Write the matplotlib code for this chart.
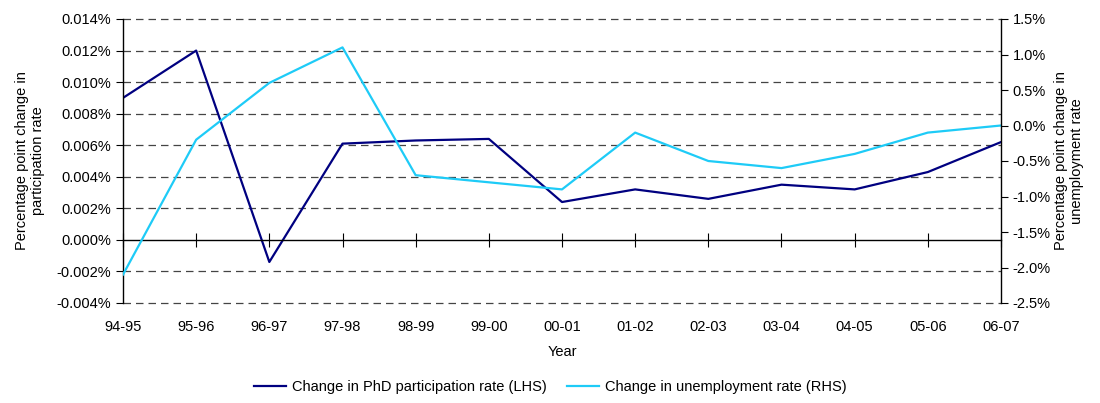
import matplotlib
matplotlib.use("Agg")
import matplotlib.pyplot as plt
from matplotlib.ticker import FuncFormatter

plt.rcParams['font.family'] = ['Liberation Sans', 'DejaVu Sans']
plt.rcParams['font.size'] = 10.5

# data
years = ['94-95', '95-96', '96-97', '97-98', '98-99', '99-00', '00-01',
         '01-02', '02-03', '03-04', '04-05', '05-06', '06-07']
phd_change = [0.0090, 0.0120, -0.0014, 0.0061, 0.0063, 0.0064, 0.0024,
              0.0032, 0.0026, 0.0035, 0.0032, 0.0043, 0.0062]
unemp_change = [-2.1, -0.2, 0.6, 1.1, -0.7, -0.8, -0.9,
                -0.1, -0.5, -0.6, -0.4, -0.1, 0.0]

navy = '#000080'
cyan = '#1ECBF7'

fig = plt.figure(figsize=(11, 4.03), dpi=100)
ax = fig.add_axes([123/1100, 1-303/403, (1001-123)/1100, (303-19)/403])
x = list(range(len(years)))

l1, = ax.plot(x, phd_change, color=navy, lw=1.6, label='Change in PhD participation rate (LHS)')
ax.set_xlim(0, len(years)-1)
ax.set_ylim(-0.004, 0.014)
yt = [-0.004 + 0.002*i for i in range(10)]
ax.set_yticks(yt)
ax.yaxis.set_major_formatter(FuncFormatter(lambda v, p: '%.3f%%' % v if abs(v) > 1e-9 else '0.000%'))
for v in yt:
    if abs(v) > 1e-9:
        ax.axhline(v, color='#444444', lw=0.9, ls=(0, (6, 4)), zorder=0, clip_on=False)

# x axis line through zero with crossing ticks
ax.spines['top'].set_visible(False)
ax.spines['right'].set_visible(False)
ax.spines['bottom'].set_position(('data', 0))
ax.spines['bottom'].set_linewidth(1.0)
ax.spines['left'].set_linewidth(1.0)
ax.set_xticks(x)
ax.tick_params(axis='x', direction='inout', length=10, labelbottom=False)
ax.tick_params(axis='y', direction='out', length=5)

sec = ax.secondary_xaxis(0)
sec.set_xticks(x, years)
sec.tick_params(length=0, pad=12)
sec.spines['bottom'].set_visible(False)
sec.set_xlabel('Year', labelpad=8)

ax.set_ylabel('Percentage point change in\nparticipation rate', labelpad=8)

ax2 = ax.twinx()
l2, = ax2.plot(x, unemp_change, color=cyan, lw=1.6, label='Change in unemployment rate (RHS)')
ax2.set_ylim(-2.5, 1.5)
ax2.set_yticks([-2.5 + 0.5*i for i in range(9)])
ax2.yaxis.set_major_formatter(FuncFormatter(lambda v, p: '%.1f%%' % v))
ax2.tick_params(axis='y', direction='out', length=5)
for s in ['top', 'left', 'bottom']:
    ax2.spines[s].set_visible(False)
ax2.spines['right'].set_linewidth(1.0)
ax2.set_ylabel('Percentage point change in\nunemployment rate', labelpad=2)

fig.legend(handles=[l1, l2], loc='center', bbox_to_anchor=(0.5, 1-387/403),
           ncol=2, frameon=False, handlelength=2.2, columnspacing=1.4, handletextpad=0.4)

fig.savefig('out.png', dpi=100)
